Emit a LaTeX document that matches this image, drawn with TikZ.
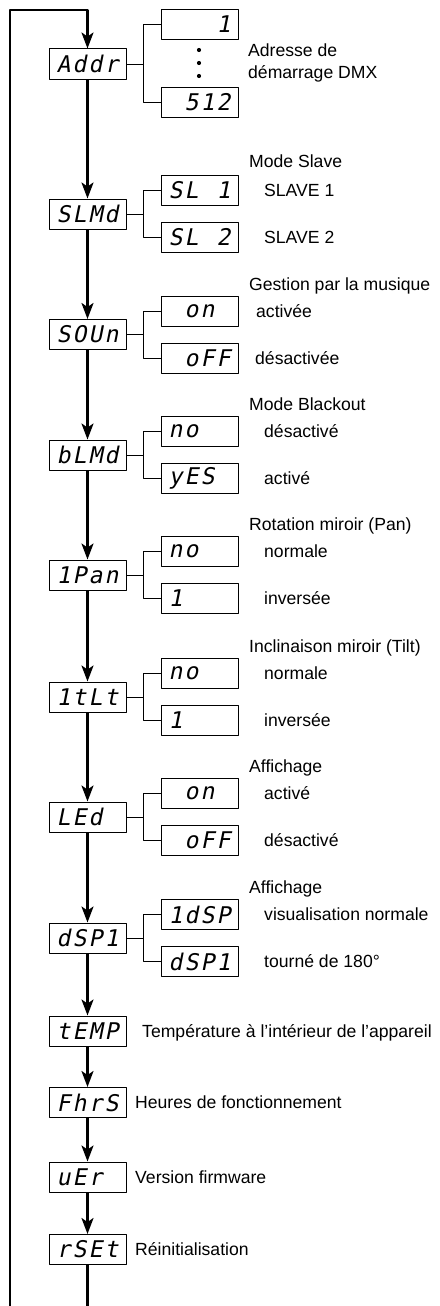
\documentclass[tikz,border=0pt]{standalone}
\usepackage{fontspec}
\setmainfont{Liberation Sans}
\newfontfamily\segfont[FakeSlant=0.2]{DejaVu Sans Mono}
\usetikzlibrary{arrows.meta}
% four display cells
\newcommand{\disp}[4]{\makebox[16pt]{#1}\makebox[16pt]{#2}\makebox[16pt]{#3}\makebox[16pt]{#4}}

\begin{document}
\begin{tikzpicture}[x=1pt, y=-1pt, line join=round, font=\fontsize{17.6}{21}\selectfont,
	dispbox/.style={draw, line width=1pt, minimum width=77pt, minimum height=30pt, inner sep=0pt, font=\fontsize{23}{23}\segfont},
	flow/.style={line width=2.4pt, -{Stealth[length=16pt,width=12pt,inset=4pt]}},
	branch/.style={line width=0.9pt},
	txt/.style={anchor=base west, inner sep=0pt}]
	\useasboundingbox (0,0) rectangle (439,1306);
	\def\mx{87.5}\def\sx{199.5}\def\bx{143}
	% menu column
	\node[dispbox] (addr) at (\mx,64) {\disp{A}{d}{d}{r}};
	\node[dispbox] (slmd) at (\mx,214) {\disp{S}{L}{M}{d}};
	\node[dispbox] (soun) at (\mx,334.5) {\disp{S}{O}{U}{n}};
	\node[dispbox] (blmd) at (\mx,455) {\disp{b}{L}{M}{d}};
	\node[dispbox] (ipan) at (\mx,575) {\disp{1}{P}{a}{n}};
	\node[dispbox] (itlt) at (\mx,697) {\disp{1}{t}{L}{t}};
	\node[dispbox] (led) at (\mx,817) {\disp{L}{E}{d}{}};
	\node[dispbox] (dspl) at (\mx,938) {\disp{d}{S}{P}{1}};
	\node[dispbox] (temp) at (\mx,1031) {\disp{t}{E}{M}{P}};
	\node[dispbox] (fhrs) at (\mx,1102.5) {\disp{F}{h}{r}{S}};
	\node[dispbox] (uer) at (\mx,1177) {\disp{u}{E}{r}{}};
	\node[dispbox] (rset) at (\mx,1249.5) {\disp{r}{S}{E}{t}};
	% sub menus
	\node[dispbox] (addra) at (\sx,24.5) {\disp{}{}{}{1}};
	\node[dispbox] (addrb) at (\sx,102.5) {\disp{}{5}{1}{2}};
	\node[dispbox] (slmda) at (\sx,190.5) {\disp{S}{L}{}{1}};
	\node[dispbox] (slmdb) at (\sx,237.5) {\disp{S}{L}{}{2}};
	\node[dispbox] (souna) at (\sx,311) {\disp{}{o}{n}{}};
	\node[dispbox] (sounb) at (\sx,358) {\disp{}{o}{F}{F}};
	\node[dispbox] (blmda) at (\sx,431.5) {\disp{n}{o}{}{}};
	\node[dispbox] (blmdb) at (\sx,478.5) {\disp{y}{E}{S}{}};
	\node[dispbox] (ipana) at (\sx,551.5) {\disp{n}{o}{}{}};
	\node[dispbox] (ipanb) at (\sx,598.5) {\disp{1}{}{}{}};
	\node[dispbox] (itlta) at (\sx,673.5) {\disp{n}{o}{}{}};
	\node[dispbox] (itltb) at (\sx,720.5) {\disp{1}{}{}{}};
	\node[dispbox] (leda) at (\sx,793.5) {\disp{}{o}{n}{}};
	\node[dispbox] (ledb) at (\sx,840.5) {\disp{}{o}{F}{F}};
	\node[dispbox] (dspla) at (\sx,914.5) {\disp{1}{d}{S}{P}};
	\node[dispbox] (dsplb) at (\sx,961.5) {\disp{d}{S}{P}{1}};
	\fill (199,50) circle (2.1) (199,63) circle (2.1) (199,76) circle (2.1);
	% texts
	\node[txt] (t1) at (248,57) {Adresse de};
	\node[txt] (t2) at (248,78) {démarrage DMX};
	\node[txt] (t3) at (249,167) {Mode Slave};
	\node[txt] (t4) at (264,196) {SLAVE 1};
	\node[txt] (t5) at (264,243) {SLAVE 2};
	\node[txt] (t6) at (249,290) {Gestion par la musique};
	\node[txt] (t7) at (256,317) {activée};
	\node[txt] (t8) at (255,364) {désactivée};
	\node[txt] (t9) at (249,410) {Mode Blackout};
	\node[txt] (t10) at (264,437) {désactivé};
	\node[txt] (t11) at (264,484) {activé};
	\node[txt] (t12) at (249,530) {Rotation miroir (Pan)};
	\node[txt] (t13) at (264,557) {normale};
	\node[txt] (t14) at (264,604) {inversée};
	\node[txt] (t15) at (249,652) {Inclinaison miroir (Tilt)};
	\node[txt] (t16) at (264,679) {normale};
	\node[txt] (t17) at (264,726) {inversée};
	\node[txt] (t18) at (249,772) {Affichage};
	\node[txt] (t19) at (264,799) {activé};
	\node[txt] (t20) at (264,846) {désactivé};
	\node[txt] (t21) at (249,893) {Affichage};
	\node[txt] (t22) at (264,920) {visualisation normale};
	\node[txt] (t23) at (264,967) {tourné de 180°};
	\node[txt] (t24) at (142,1037) {Température à l’intérieur de l’appareil};
	\node[txt] (t25) at (135,1108.5) {Heures de fonctionnement};
	\node[txt] (t26) at (135,1183) {Version firmware};
	\node[txt] (t27) at (135,1255.5) {Réinitialisation};
	% connectors
	\foreach \a/\b in {addr/slmd, slmd/soun, soun/blmd, blmd/ipan, ipan/itlt, itlt/led, led/dspl, dspl/temp, temp/fhrs, fhrs/uer, uer/rset}
		\draw[flow] (\a.south) -- (\b.north);
	\foreach \a in {addr, slmd, soun, blmd, ipan, itlt, led, dspl}{
		\draw[branch] (\a.east) -- (\bx,0 |- \a.east) |- (\a a.west);
		\draw[branch] (\a.east) -- (\bx,0 |- \a.east) |- (\a b.west);
	}
	\coordinate (down) at (\mx,1306);
	\coordinate (up) at (10,1306);
	\draw[line width=2.4pt] (rset.south) -- (down);
	\draw[flow] (up) -- (10,10) -| (addr.north);
\end{tikzpicture}
\end{document}
